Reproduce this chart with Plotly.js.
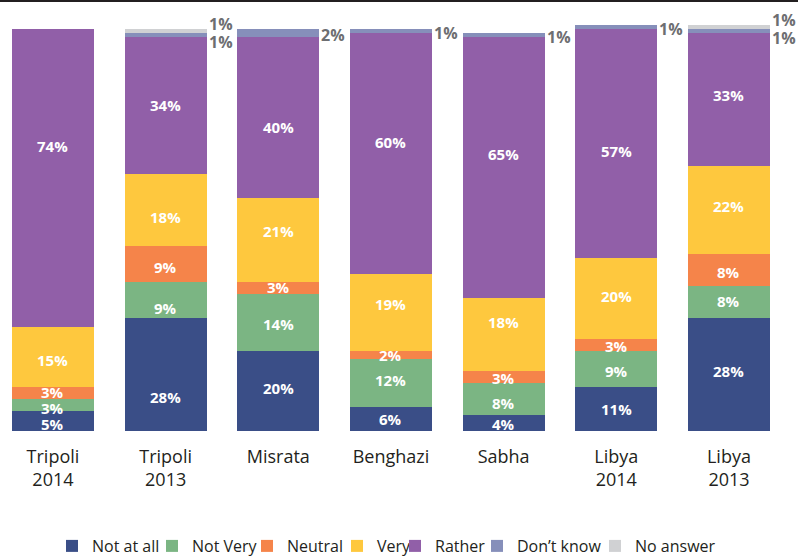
<!DOCTYPE html>
<html><head><meta charset="utf-8">
<script src="https://cdn.plot.ly/plotly-3.0.1.min.js"></script>
<style>body{margin:0}#c{width:798px;height:557px}</style>
</head><body><div id="c"></div>
<script>
const categories = ["Tripoli<br>2014","Tripoli<br>2013","Misrata","Benghazi","Sabha","Libya<br>2014","Libya<br>2013"];
const notAtAll  = [5, 28, 20, 6, 4, 11, 28];
const notVery   = [3, 9, 14, 12, 8, 9, 8];
const neutral   = [3, 9, 3, 2, 3, 3, 8];
const very      = [15, 18, 21, 19, 18, 20, 22];
const rather    = [74, 34, 40, 60, 65, 57, 33];
const dontKnow  = [0, 1, 2, 1, 1, 1, 1];
const noAnswer  = [0, 1, 0, 0, 0, 0, 1];

const seriesNames = ["Not at all","Not Very","Neutral","Very","Rather","Don’t know","No answer"];
const seriesData = [notAtAll, notVery, neutral, very, rather, dontKnow, noAnswer];

// styling
const colors = ["#3a4e87","#7bb583","#f5844a","#fec83e","#915fa8","#868fba","#d0d1d3"];
const FONT = "Open Sans, Noto Sans, sans-serif";
// label nudges in pixels (positive = downward), per series (first 5) per category
const labelNudge = [
  [3, 22, -3, 0, 1, 0, -4],
  [3, 8, 1, -3, 4, 2, -1],
  [-1, 3, -1, 0, 1, 1, 2],
  [3, 7, -9, -8, -13, -2, -4],
  [-32, 0, 9, -12, -14, 7, -4]
];
const legendTextX = [90, 190, 285, 375, 433, 515, 633];

const traces = seriesData.map((vals, s) => ({
  type: "bar",
  name: seriesNames[s],
  legend: s === 0 ? "legend" : "legend" + (s + 1),
  x: categories.map((c,i)=>i),
  y: vals,
  marker: {color: colors[s], line: {width: 0}},
  textposition: "none",
  hoverinfo: "skip",
  width: 0.728
}));

const annotations = [];
for (let i = 0; i < categories.length; i++) {
  let base = 0;
  for (let s = 0; s < 5; s++) {
    const v = seriesData[s][i];
    if (v > 0) {
      annotations.push({x: i, y: base + v / 2, xref: "x", yref: "y", text: v + "%",
        showarrow: false, xanchor: "center", yanchor: "middle", yshift: -labelNudge[s][i],
        font: {family: FONT, size: 15, color: "#ffffff", weight: 700}});
    }
    base += v;
  }
  const dk = dontKnow[i], na = noAnswer[i];
  const grey = {family: FONT, size: 16, color: "#6d6e71", weight: 700};
  if (dk > 0 && na > 0) {
    annotations.push({x: i + 0.364, y: base + dk + na / 2, xref: "x", yref: "y", text: na + "%", showarrow: false,
      xanchor: "left", yanchor: "middle", yshift: 7, font: grey});
    annotations.push({x: i + 0.364, y: base + dk / 2, xref: "x", yref: "y", text: dk + "%", showarrow: false,
      xanchor: "left", yanchor: "middle", yshift: -7, font: grey});
  } else if (dk > 0) {
    annotations.push({x: i + 0.364, y: base + dk / 2, xref: "x", yref: "y", text: dk + "%", showarrow: false,
      xanchor: "left", yanchor: "middle", yshift: -2, font: grey});
  }
}

const plotW = 788, plotBottom = 431, plotH = 430;
const legendBase = {orientation: "h", xanchor: "left", yanchor: "middle", y: (plotBottom - 546) / plotH,
  font: {family: FONT, size: 16, color: "#231f20"}, itemwidth: 30, bgcolor: "rgba(0,0,0,0)", borderwidth: 0};

const layout = {
  width: 798, height: 557,
  margin: {l: 0, r: 10, t: 1, b: 126, autoexpand: false},
  barmode: "stack",
  paper_bgcolor: "#ffffff",
  plot_bgcolor: "#ffffff",
  showlegend: true,
  xaxis: {
    type: "linear",
    range: [-0.470, 6.524],
    tickmode: "array",
    tickvals: categories.map((c,i)=>i),
    ticktext: categories,
    showgrid: false, zeroline: false, showline: false, ticks: "",
    ticklabelstandoff: 13,
    tickfont: {family: FONT, size: 18, color: "#231f20"},
    automargin: false,
    fixedrange: true
  },
  yaxis: {
    range: [0, 107.0],
    showgrid: false, zeroline: false, showline: false, showticklabels: false, ticks: "",
    automargin: false,
    fixedrange: true
  },
  annotations: annotations,
  shapes: [{type: "line", xref: "paper", yref: "paper", x0: -0.01, x1: 1.02, y0: 1, y1: 1,
    line: {color: "#231f20", width: 2}}]
};
legendTextX.forEach((tx, s) => {
  const key = s === 0 ? "legend" : "legend" + (s + 1);
  layout[key] = Object.assign({}, legendBase, {x: (tx - 38) / plotW});
});

Plotly.newPlot("c", traces, layout, {displayModeBar: false, staticPlot: true});
</script>
</body></html>
